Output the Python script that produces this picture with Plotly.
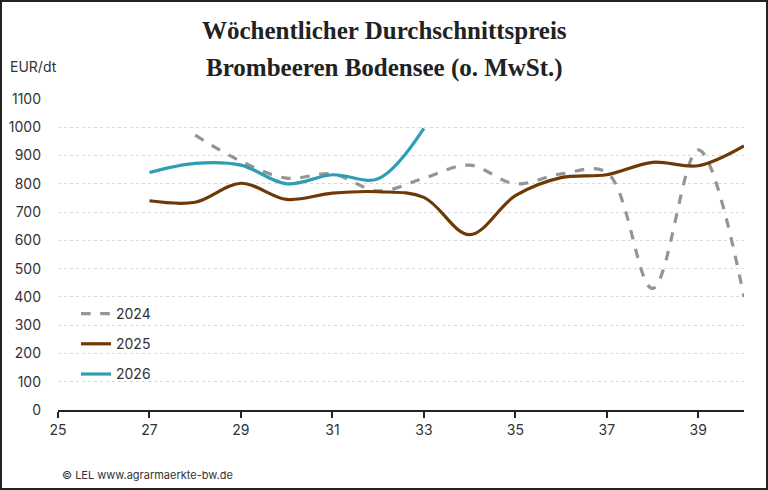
import plotly.graph_objects as go

weeks_2024 = [28, 29, 30, 31, 32, 33, 34, 35, 36, 37, 38, 39, 40]
price_2024 = [972, 880, 820, 835, 775, 820, 866, 800, 835, 840, 430, 920, 400]

weeks_2025 = [27, 28, 29, 30, 31, 32, 33, 34, 35, 36, 37, 38, 39, 40]
price_2025 = [740, 735, 802, 745, 767, 772, 752, 620, 758, 822, 832, 876, 864, 934]

weeks_2026 = [27, 28, 29, 30, 31, 32, 33]
price_2026 = [840, 872, 866, 800, 832, 818, 996]

x_ticks = [25, 27, 29, 31, 33, 35, 37, 39]
y_ticks = [0, 100, 200, 300, 400, 500, 600, 700, 800, 900, 1000, 1100]

W, H = 768, 490
ML, MR, MT, MB = 58, 24, 99, 80
PW, PH = W - ML - MR, H - MT - MB


def px(p):
    return (p - ML) / PW


def py(p):
    return (H - MB - p) / PH


fig = go.Figure()
fig.add_trace(go.Scatter(x=weeks_2024, y=price_2024, name="2024", mode="lines",
                         line=dict(color="#959595", width=3.2, dash="dash", shape="spline", smoothing=1),
                         legendgroup="a"))
fig.add_trace(go.Scatter(x=weeks_2025, y=price_2025, name="2025", mode="lines",
                         line=dict(color="#6e3906", width=3.2, shape="spline", smoothing=1),
                         legendgroup="b"))
fig.add_trace(go.Scatter(x=weeks_2026, y=price_2026, name="2026", mode="lines",
                         line=dict(color="#2f9db3", width=3.2, shape="spline", smoothing=1),
                         legendgroup="c"))

fig.update_layout(
    width=W, height=H,
    margin=dict(l=ML, r=MR, t=MT, b=MB, pad=0, autoexpand=False),
    paper_bgcolor="white", plot_bgcolor="white",
    font=dict(family="Inter, Roboto, sans-serif", size=14, color="#333333"),
    showlegend=True,
    legend=dict(x=px(76), y=py(298), xanchor="left", yanchor="top",
                bgcolor="rgba(0,0,0,0)", font=dict(size=14, color="#333333"),
                traceorder="grouped", tracegroupgap=9, itemwidth=30),
    xaxis=dict(range=[25, 40], tickvals=x_ticks, showgrid=False, zeroline=False,
               showline=True, linecolor="#222222", linewidth=2, automargin=False,
               ticks="outside", ticklen=6, tickwidth=2, tickcolor="#222222",
               tickfont=dict(size=14, color="#333333")),
    yaxis=dict(range=[0, 1100], tickvals=y_ticks, showgrid=True, gridcolor="#d9d9d9",
               griddash="dot", gridwidth=1, zeroline=False, showline=False, automargin=False,
               ticks="", ticklabelstandoff=16, tickfont=dict(size=14, color="#333333")),
)

fig.add_annotation(text="<b>Wöchentlicher Durchschnittspreis</b>", x=px(384), y=py(30),
                   xref="paper", yref="paper", showarrow=False, xanchor="center", yanchor="middle",
                   font=dict(family="Liberation Serif, serif", size=25, color="#222222"))
fig.add_annotation(text="<b>Brombeeren Bodensee (o. MwSt.)</b>", x=px(384), y=py(68),
                   xref="paper", yref="paper", showarrow=False, xanchor="center", yanchor="middle",
                   font=dict(family="Liberation Serif, serif", size=25, color="#222222"))
fig.add_annotation(text="EUR/dt", x=px(8), y=py(67), xref="paper", yref="paper",
                   showarrow=False, xanchor="left", yanchor="middle",
                   font=dict(size=14, color="#333333"))
fig.add_annotation(text="© LEL www.agrarmaerkte-bw.de", x=px(60), y=py(475), xref="paper", yref="paper",
                   showarrow=False, xanchor="left", yanchor="middle",
                   font=dict(size=11, color="#333333"))

fig.add_shape(type="rect", xref="paper", yref="paper",
              x0=px(1), x1=px(W - 1), y0=py(H - 1), y1=py(1),
              line=dict(color="#222222", width=2), fillcolor="rgba(0,0,0,0)", layer="above")

fig.write_html("out.html", config={"displayModeBar": False},
               post_script="document.body.style.margin='0px';document.body.style.overflow='hidden';")
